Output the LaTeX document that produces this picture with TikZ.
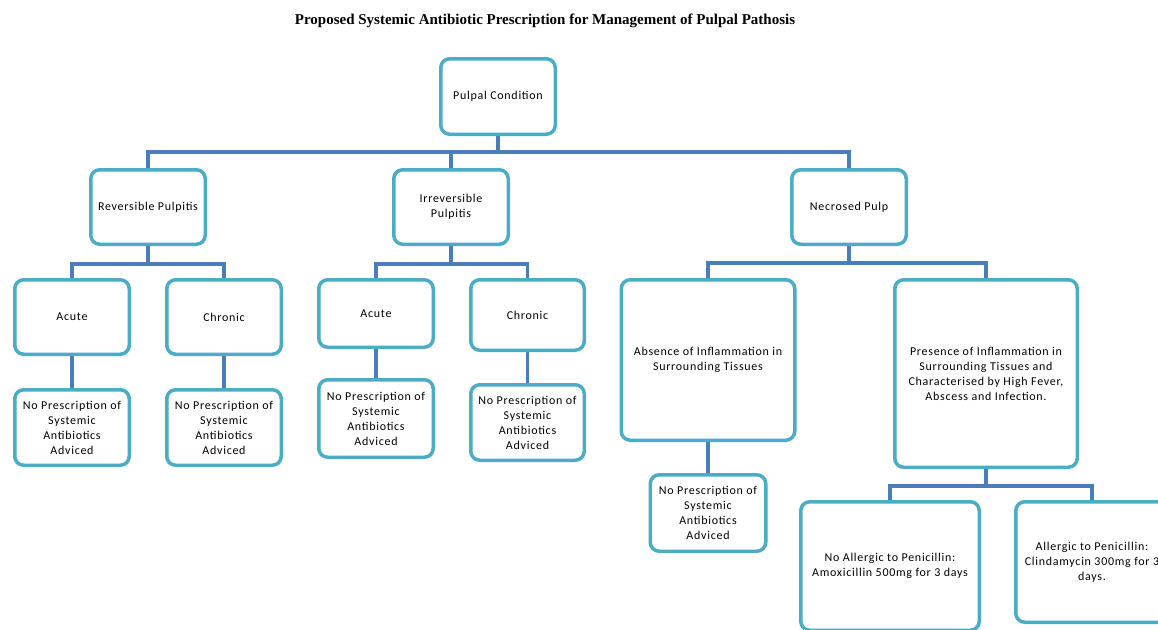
\documentclass[tikz,border=0pt]{standalone}
\usepackage{fontspec}
\setmainfont{Carlito}[LetterSpace=6]
\newfontfamily\titlefont{Liberation Serif}
\usetikzlibrary{backgrounds}
\definecolor{boxline}{RGB}{75,172,198}
\definecolor{connline}{RGB}{74,126,187}
\tikzset{
  box/.style={draw=boxline, line width=3.5pt, rounded corners=9pt, fill=white,
    inner sep=0pt, align=center, font=\fontsize{12}{15}\selectfont},
  conn/.style={draw=connline, line width=3.5pt},
}
\begin{document}
\begin{tikzpicture}[x=1pt,y=-1pt]
\useasboundingbox (0,0) rectangle (1158,629);
\clip (0,0) rectangle (1158,629);
\node[font=\titlefont\bfseries\fontsize{15}{18}\selectfont] (title) at (545,21) {Proposed Systemic Antibiotic Prescription for Management of Pulpal Pathosis};
% level 0
\node[box, minimum width=114.5pt, minimum height=75.5pt] (pc) at (498,96.5) {Pulpal Condition};
% level 1
\node[box, minimum width=114.5pt, minimum height=74.5pt] (rev) at (148,207) {Reversible Pulpitis};
\node[box, minimum width=114.5pt, minimum height=74.5pt] (irr) at (451,207) {Irreversible\\Pulpitis};
\node[box, minimum width=114.5pt, minimum height=74.5pt] (nec) at (849,207) {Necrosed Pulp};
% level 2
\node[box, minimum width=114.5pt, minimum height=74.5pt] (ra) at (72,317) {Acute};
\node[box, minimum width=114.5pt, minimum height=74.5pt] (rc) at (224,317) {Chronic};
\node[box, minimum width=114.5pt, minimum height=67.5pt] (ia) at (376,313.5) {Acute};
\node[box, minimum width=113.5pt, minimum height=70.5pt] (ic) at (527.5,315) {Chronic};
\node[box, minimum width=173.5pt, minimum height=160.5pt] (na) at (708,360) {Absence of Inflammation in\\Surrounding Tissues};
\node[box, minimum width=182.5pt, minimum height=187.5pt] (np) at (986,373.5) {Presence of Inflammation in\\Surrounding Tissues and\\Characterised by High Fever,\\Abscess and Infection.};
% level 3
\node[box, minimum width=114.5pt, minimum height=75.5pt] (rn1) at (72,427.5) {No Prescription of\\Systemic\\Antibiotics\\Adviced};
\node[box, minimum width=114.5pt, minimum height=75.5pt] (rn2) at (224,427.5) {No Prescription of\\Systemic\\Antibiotics\\Adviced};
\node[box, minimum width=114.5pt, minimum height=77.5pt] (in1) at (376,418.5) {No Prescription of\\Systemic\\Antibiotics\\Adviced};
\node[box, minimum width=113.5pt, minimum height=75.5pt] (in2) at (527.5,422.5) {No Prescription of\\Systemic\\Antibiotics\\Adviced};
\node[box, minimum width=115.5pt, minimum height=76.5pt] (nn) at (708,513) {No Prescription of\\Systemic\\Antibiotics\\Adviced};
\node[box, minimum width=178.5pt, minimum height=128.5pt] (al1) at (890,566) {No Allergic to Penicillin:\\Amoxicillin 500mg for 3 days};
\node[box, minimum width=152.5pt, minimum height=120.5pt] (al2) at (1092,562) {Allergic to Penicillin:\\Clindamycin 300mg for 3\\days.};
% connectors
\coordinate (b0) at (498,152);
\coordinate (b1) at (148,264);
\coordinate (b2) at (451,264);
\coordinate (b3) at (849,263);
\coordinate (b4) at (986,486);
\begin{scope}[on background layer]
\draw[conn] (pc.south) -- (b0);
\draw[conn] (rev.north) |- (b0) -| (nec.north);
\draw[conn] (irr.north) -- (irr.north |- b0);
\draw[conn] (rev.south) -- (b1);
\draw[conn] (ra.north) |- (b1) -| (rc.north);
\draw[conn] (irr.south) -- (b2);
\draw[conn] (ia.north) |- (b2) -| (ic.north);
\draw[conn] (nec.south) -- (b3);
\draw[conn] (na.north) |- (b3) -| (np.north);
\draw[conn] (np.south) -- (b4);
\draw[conn] (al1.north) |- (b4) -| (al2.north);
\draw[conn] (ra.south) -- (rn1.north);
\draw[conn] (rc.south) -- (rn2.north);
\draw[conn] (ia.south) -- (in1.north);
\draw[conn] (ic.south) -- (in2.north);
\draw[conn] (na.south) -- (nn.north);
\end{scope}
\end{tikzpicture}
\end{document}
